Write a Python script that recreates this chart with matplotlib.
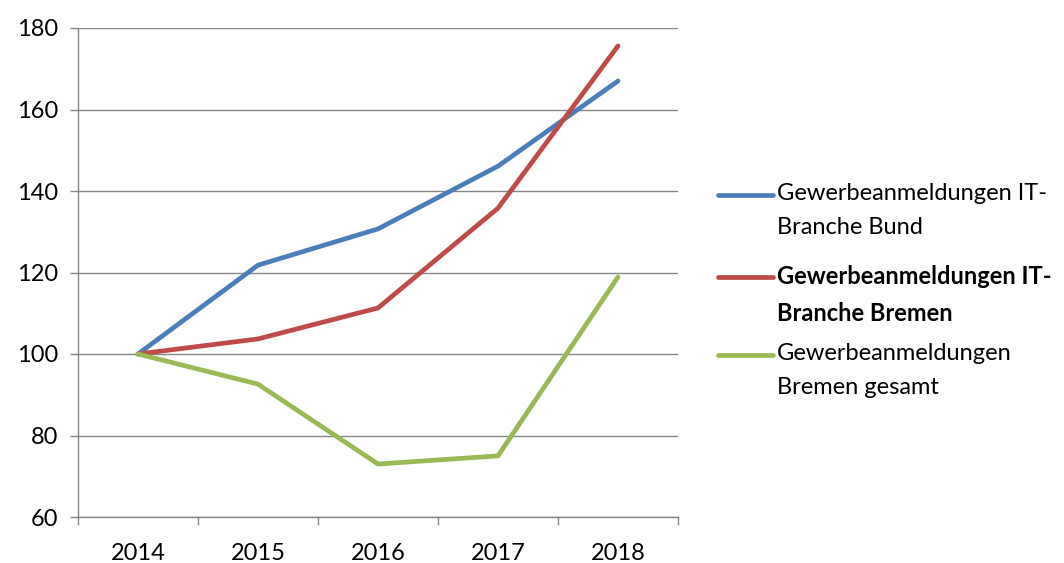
import matplotlib.pyplot as plt
from matplotlib.lines import Line2D
import numpy as np

plt.rcParams['font.family'] = ['Lato', 'DejaVu Sans']

years = ['2014', '2015', '2016', '2017', '2018']
it_bund = [100, 121.8, 130.7, 146.1, 167.0]
it_bremen = [100, 103.7, 111.3, 135.8, 175.6]
bremen_gesamt = [100, 92.6, 73.0, 75.0, 118.9]

labels = ['Gewerbeanmeldungen IT-\nBranche Bund',
          'Gewerbeanmeldungen IT-\nBranche Bremen',
          'Gewerbeanmeldungen\nBremen gesamt']
colors = ['#4A7EBB', '#BE4B48', '#98B954']
series = [it_bund, it_bremen, bremen_gesamt]

fig = plt.figure(figsize=(10.64, 5.63), dpi=100)
ax = fig.add_axes([78 / 1064, 1 - 517 / 563, 600 / 1064, 489 / 563])

x = np.arange(len(years))
for vals, c in zip(series, colors):
    ax.plot(x, vals, color=c, linewidth=3.4, solid_capstyle='round', solid_joinstyle='round', zorder=3)

ax.set_ylim(60, 180)
ax.set_yticks(range(60, 181, 20))
ax.set_xlim(-0.5, len(years) - 0.5)
ax.set_xticks(np.arange(-0.5, len(years), 1.0))
ax.set_xticklabels([])
ax.set_xticks(x, minor=True)
ax.set_xticklabels(years, minor=True)
ax.tick_params(axis='x', which='minor', length=0, pad=19, labelsize=17)
ax.tick_params(axis='x', which='major', length=6, width=1, color='#868686', direction='out')
ax.tick_params(axis='y', length=6, width=1, color='#868686', direction='out', pad=8, labelsize=17)

ax.grid(axis='y', color='#868686', linewidth=1)
ax.set_axisbelow(True)
for s in ['top', 'right']:
    ax.spines[s].set_visible(False)
for s in ['left', 'bottom']:
    ax.spines[s].set_color('#868686')
    ax.spines[s].set_linewidth(1)

# legend drawn by hand so the line sits on the first text line
ys = [195, 277, 355]
for lab, c, y, i in zip(labels, colors, ys, range(3)):
    yf = 1 - y / 563
    fig.add_artist(Line2D([718 / 1064, 773 / 1064], [yf, yf], color=c, linewidth=3.4,
                          solid_capstyle='round'))
    fig.text(777 / 1064, yf + 12 / 563, lab, fontsize=17, va='top', ha='left',
             linespacing=1.75, fontweight='bold' if i == 1 else 'normal')

fig.savefig('out.png', dpi=100)
